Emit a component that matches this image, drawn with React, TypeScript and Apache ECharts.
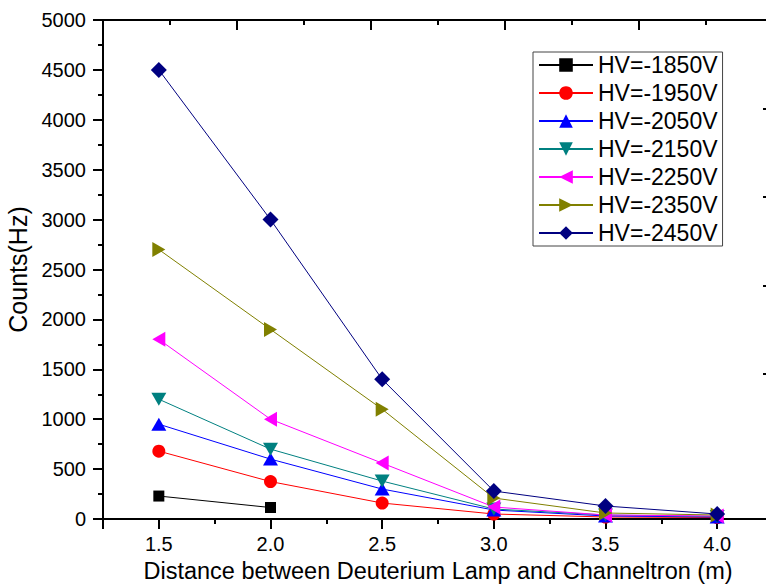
import React, { useEffect, useRef } from "react";
import * as echarts from "echarts";

// Distances (m)
const distances = [1.5, 2.0, 2.5, 3.0, 3.5, 4.0];

// Counts (Hz) per high-voltage setting
const hv1850 = [230, 115];
const hv1950 = [680, 375, 160, 50, 20, 15];
const hv2050 = [950, 600, 300, 90, 30, 20];
const hv2150 = [1200, 700, 380, 100, 40, 25];
const hv2250 = [1800, 1000, 560, 120, 40, 30];
const hv2350 = [2700, 1900, 1100, 210, 60, 40];
const hv2450 = [4500, 3000, 1400, 280, 130, 50];

const seriesNames = [
  "HV=-1850V",
  "HV=-1950V",
  "HV=-2050V",
  "HV=-2150V",
  "HV=-2250V",
  "HV=-2350V",
  "HV=-2450V",
];
const seriesValues = [hv1850, hv1950, hv2050, hv2150, hv2250, hv2350, hv2450];

// Axis ticks
const xMajorTicks = [1.25, 1.5, 2.0, 2.5, 3.0, 3.5, 4.0, 4.25];
const xMinorTicks = [1.75, 2.25, 2.75, 3.25, 3.75];
const xTickLabels = [1.5, 2.0, 2.5, 3.0, 3.5, 4.0];
const rightAxisTicks = [1453, 2340, 3226, 4113];

const colors = ["#000000", "#ff0000", "#0000ff", "#008080", "#ff00ff", "#808000", "#000080"];
const symbols = ["rect", "circle", "triangle", "triangle", "triangle", "triangle", "diamond"];
const symbolRotates = [0, 0, 0, 180, 90, -90, 0];
const symbolSizes: any[] = [11, 13, [15, 13], [15, 13], [15, 13], [15, 13], 16];

const FONT = "'Liberation Sans', Arial, sans-serif";

export default function App() {
  const ref = useRef<HTMLDivElement>(null);

  useEffect(() => {
    if (!ref.current) return;
    const chart = echarts.init(ref.current, null, { renderer: "svg" });

    const series = seriesValues.map((vals, i) => ({
      name: seriesNames[i],
      type: "line",
      xAxisIndex: 0,
      yAxisIndex: 0,
      data: vals.map((v, j) => [distances[j], v]),
      symbol: symbols[i],
      symbolRotate: symbolRotates[i],
      symbolSize: symbolSizes[i],
      showAllSymbol: true,
      lineStyle: { color: colors[i], width: 1 },
      itemStyle: { color: colors[i] },
      emphasis: { disabled: true },
      z: 2 + i,
    }));

    const axisLineStyle = { color: "#000", width: 2 };

    chart.setOption({
      animation: false,
      backgroundColor: "#fff",
      textStyle: { fontFamily: FONT },
      grid: {
        left: 103,
        right: -7,
        top: 20,
        bottom: 65,
        containLabel: false,
        outerBoundsMode: "none",
      },
      legend: {
        orient: "vertical",
        left: 533,
        top: 52,
        padding: [1, 5, 1, 5],
        itemGap: 4,
        itemWidth: 54,
        itemHeight: 17,
        borderColor: "#444",
        borderWidth: 1,
        backgroundColor: "#fff",
        selectedMode: false,
        data: seriesNames,
        textStyle: { fontSize: 23, color: "#000", fontFamily: FONT, lineHeight: 24 },
      },
      xAxis: [
        {
          type: "value",
          min: 1.25,
          max: 4.25,
          position: "bottom",
          axisLine: { show: true, onZero: false, lineStyle: axisLineStyle },
          axisTick: { show: true, inside: false, length: 10, lineStyle: axisLineStyle, customValues: xMajorTicks },
          axisLabel: {
            customValues: xTickLabels,
            formatter: (v: number) => v.toFixed(1),
            fontSize: 20,
            color: "#000",
            margin: 15,
            fontFamily: FONT,
          },
          splitLine: { show: false },
          name: "Distance between Deuterium Lamp and Channeltron (m)",
          nameLocation: "middle",
          nameGap: 38,
          nameTextStyle: { fontSize: 23.5, color: "#000", fontFamily: FONT },
        },
        {
          type: "value",
          min: 1.25,
          max: 4.25,
          position: "bottom",
          axisLine: { show: false, onZero: false },
          axisTick: { show: true, inside: false, length: 5, lineStyle: axisLineStyle, customValues: xMinorTicks },
          axisLabel: { show: false },
          splitLine: { show: false },
        },
        {
          type: "value",
          min: 0,
          max: 10,
          interval: 2,
          position: "top",
          axisLine: { show: true, onZero: false, lineStyle: axisLineStyle },
          axisTick: { show: true, inside: true, length: 10, lineStyle: axisLineStyle },
          minorTick: { show: true, splitNumber: 2, length: 5, lineStyle: axisLineStyle },
          axisLabel: { show: false },
          splitLine: { show: false },
        },
      ],
      yAxis: [
        {
          type: "value",
          min: 0,
          max: 5000,
          interval: 500,
          position: "left",
          axisLine: { show: true, onZero: false, lineStyle: axisLineStyle },
          axisTick: { show: true, inside: false, length: 10, lineStyle: axisLineStyle },
          minorTick: { show: true, splitNumber: 2, length: 5, lineStyle: axisLineStyle },
          axisLabel: {
            fontSize: 20,
            color: "#000",
            margin: 17,
            fontFamily: FONT,
            formatter: (v: number) => String(v),
          },
          splitLine: { show: false },
          name: "Counts(Hz)",
          nameLocation: "middle",
          nameGap: 68,
          nameTextStyle: { fontSize: 25, color: "#000", fontFamily: FONT },
        },
        {
          type: "value",
          min: 0,
          max: 5000,
          position: "right",
          axisLine: { show: true, onZero: false, lineStyle: axisLineStyle },
          axisTick: { show: true, inside: true, length: 10, lineStyle: axisLineStyle, customValues: rightAxisTicks },
          axisLabel: { show: false },
          splitLine: { show: false },
        },
      ],
      series,
    });

    return () => chart.dispose();
  }, []);

  return (
    <div
      ref={ref}
      style={{ position: "absolute", left: 0, top: 0, width: 766, height: 584, background: "#fff" }}
    />
  );
}
